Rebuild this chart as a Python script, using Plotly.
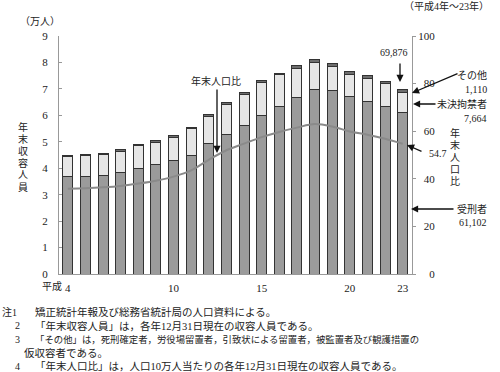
import plotly.graph_objects as go

years = list(range(4, 24))
sentenced = [3.67, 3.67, 3.71, 3.83, 4.00, 4.14, 4.29, 4.49, 4.92, 5.28,
             5.61, 6.01, 6.34, 6.67, 6.99, 6.95, 6.70, 6.52, 6.33, 6.1102]
unconvicted = [0.76, 0.80, 0.81, 0.82, 0.85, 0.85, 0.88, 1.00, 1.05, 1.12,
               1.19, 1.25, 1.19, 1.12, 1.01, 0.90, 0.86, 0.88, 0.86, 0.7664]
others = [0.05, 0.05, 0.05, 0.05, 0.05, 0.05, 0.05, 0.05, 0.07, 0.07,
          0.07, 0.07, 0.07, 0.10, 0.10, 0.10, 0.10, 0.10, 0.10, 0.111]
rate = [35.8, 36.0, 36.4, 37.0, 38.0, 39.2, 40.9, 43.5, 48.0, 52.0,
        54.8, 57.5, 59.7, 61.5, 63.0, 62.0, 59.9, 58.5, 56.8, 54.7]
xtick_vals = [4, 10, 15, 20, 23]
xtick_text = ["4", "10", "15", "20", "23"]
notes = [
    ("注1", "矯正統計年報及び総務省統計局の人口資料による。"),
    ("2", "「年末収容人員」は，各年12月31日現在の収容人員である。"),
    ("3", "「その他」は，死刑確定者，労役場留置者，引致状による留置者，被監置者及び観護措置の"),
    ("", "仮収容者である。"),
    ("4", "「年末人口比」は，人口10万人当たりの各年12月31日現在の収容人員である。"),
]

FONT = "Liberation Serif, Noto Sans CJK JP, serif"
L, R, T, B = 59, 412, 36, 274
W, H = R - L, B - T


def px(x):
    return (x - L) / W


def py(y):
    return (B - y) / H


fig = go.Figure()
edge = dict(color="#333333", width=1)
fig.add_trace(go.Bar(x=years, y=sentenced, marker=dict(color="#9b9b9b", line=edge), name="受刑者"))
fig.add_trace(go.Bar(x=years, y=unconvicted, marker=dict(color="#e6e6e6", line=edge), name="未決拘禁者"))
fig.add_trace(go.Bar(x=years, y=others, marker=dict(color="#6e6e6e", line=edge), name="その他"))
fig.add_trace(go.Scatter(x=years, y=rate, yaxis="y2", mode="lines",
                         line=dict(color="#8a8a8a", width=2, shape="spline", smoothing=1.0),
                         name="年末人口比"))

annotations = []


def text(x, y, s, xanchor="center", size=10):
    annotations.append(dict(x=px(x), y=py(y), xref="paper", yref="paper", text=s,
                            showarrow=False, xanchor=xanchor, yanchor="middle",
                            font=dict(size=size, family=FONT, color="#222")))


def arrow(tx, ty, sx, sy):
    annotations.append(dict(x=px(tx), y=py(ty), xref="paper", yref="paper", text="",
                            showarrow=True, ax=sx - tx, ay=sy - ty, arrowhead=2,
                            arrowsize=1.1, arrowwidth=1.3, arrowcolor="#111"))


arrow(400, 82, 400, 62)
arrow(412, 93, 459, 73)
arrow(413, 104, 437, 104)
arrow(407, 145, 423, 152)
arrow(411, 209, 455, 209)
arrow(217, 153, 217, 88)

text(394, 53, "69,876")
text(489, 75, "その他", "right")
text(489, 89, "1,110", "right")
text(489, 104, "未決拘禁者", "right")
text(489, 118, "7,664", "right")
text(427, 153, "54.7", "left")
text(489, 209, "受刑者", "right")
text(489, 222, "61,102", "right")
text(216, 81, "年末人口比")
text(40, 22, "（万人）")
text(491, 6, "（平成4年～23年）", "right")
text(64, 286, "平成", "right")
for i, ch in enumerate("年末人口比"):
    text(455, 133 + i * 12, ch)
for i, ch in enumerate("年末収容人員"):
    text(23, 127 + i * 12, ch)
for i, (lab, body) in enumerate(notes):
    y = 312 + i * 13.5
    if lab == "注1":
        text(0, y, lab, "left")
    elif lab:
        text(17, y, lab)
    size = 9.4 if lab == "3" else 10.5
    text(33 if lab else 22, y, body, "left", size=size)

fs = "\u2007"
fig.update_layout(
    width=500, height=372,
    margin=dict(l=L, r=500 - R, t=T, b=372 - B),
    barmode="stack", bargap=0.43, showlegend=False,
    plot_bgcolor="white", paper_bgcolor="white",
    font=dict(family=FONT, size=11, color="#222"),
    xaxis=dict(range=[3.5, 23.53], tickvals=xtick_vals, ticktext=xtick_text,
               showgrid=False, zeroline=False, showline=True, linecolor="#999",
               linewidth=1, ticks="", ticklabelstandoff=4, tickfont=dict(size=11)),
    yaxis=dict(range=[0, 9], dtick=1, showgrid=False, zeroline=False,
               showline=True, linecolor="#999", linewidth=1, ticks="inside",
               ticklen=3, tickcolor="#999", ticklabelstandoff=8, tickfont=dict(size=11)),
    yaxis2=dict(range=[0, 100], tickvals=[0, 20, 40, 60, 80, 100],
                ticktext=[fs + fs + "0", fs + "20", fs + "40", fs + "60", fs + "80", "100"],
                overlaying="y", side="right", showgrid=False, zeroline=False,
                showline=True, linecolor="#999", linewidth=1, ticks="outside",
                ticklen=3, tickcolor="#999", tickfont=dict(size=11)),
    annotations=annotations,
)

fig.write_html("out.html", config={"displayModeBar": False},
               post_script="document.body.style.margin='0';")
